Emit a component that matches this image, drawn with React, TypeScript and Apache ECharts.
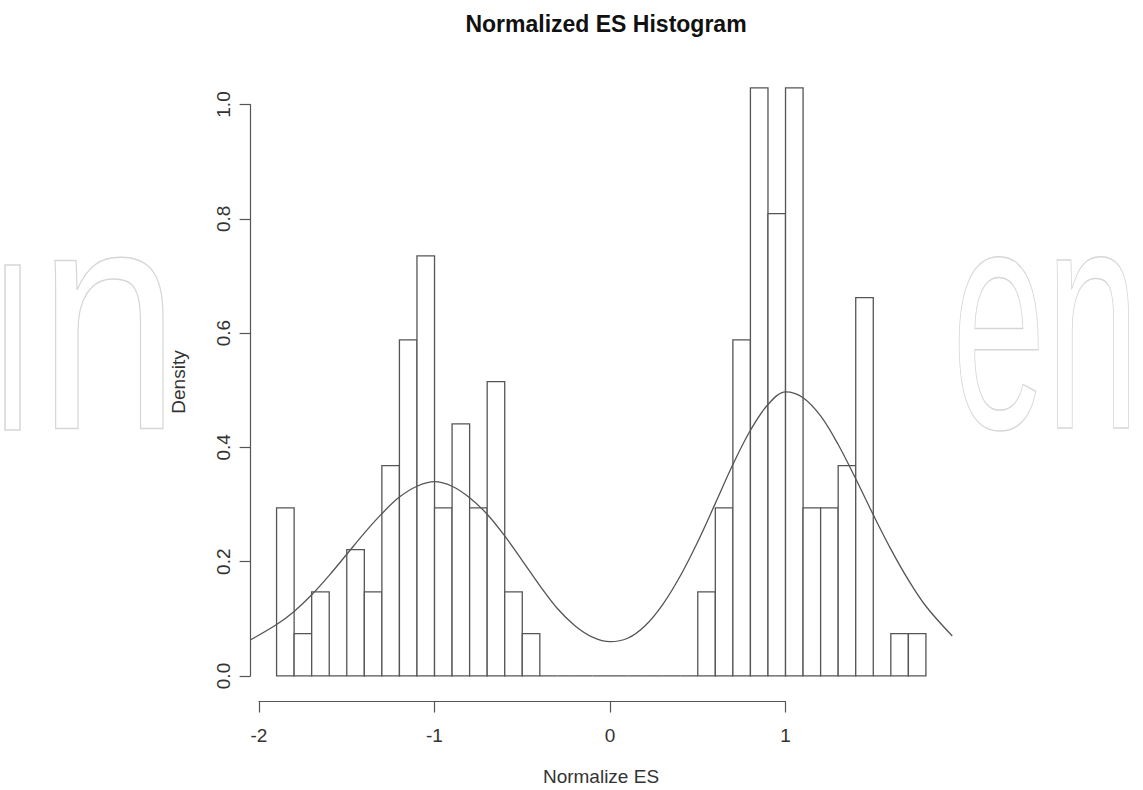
import React, { useEffect, useRef } from "react";
import * as echarts from "echarts";

// Histogram bin edges (Normalize ES)
const breaks = [
  -1.9, -1.8, -1.7, -1.6, -1.5, -1.4, -1.3, -1.2, -1.1, -1.0,
  -0.9, -0.8, -0.7, -0.6, -0.5, -0.4, -0.3, -0.2, -0.1, 0.0,
  0.1, 0.2, 0.3, 0.4, 0.5, 0.6, 0.7, 0.8, 0.9, 1.0,
  1.1, 1.2, 1.3, 1.4, 1.5, 1.6, 1.7, 1.8,
];

// Density of each bin
const densities = [
  0.294, 0.074, 0.147, 0.0, 0.221, 0.147, 0.368, 0.588, 0.735, 0.294,
  0.441, 0.294, 0.515, 0.147, 0.074, 0.0, 0.0, 0.0, 0.0, 0.0,
  0.0, 0.0, 0.0, 0.0, 0.147, 0.294, 0.588, 1.029, 0.809, 1.029,
  0.294, 0.294, 0.368, 0.662, 0.0, 0.074, 0.074,
];

// Density curve
const curveX = [
  -2.05, -1.9, -1.8, -1.7, -1.6, -1.5, -1.4, -1.3, -1.2, -1.1,
  -1.0, -0.9, -0.8, -0.7, -0.6, -0.5, -0.4, -0.3, -0.2, -0.1,
  0.0, 0.1, 0.2, 0.3, 0.4, 0.5, 0.6, 0.7, 0.8, 0.9,
  1.0, 1.1, 1.2, 1.3, 1.4, 1.5, 1.6, 1.7, 1.8, 1.95,
];
const curveY = [
  0.063, 0.09, 0.113, 0.142, 0.176, 0.213, 0.25, 0.284, 0.313, 0.332,
  0.34, 0.332, 0.312, 0.283, 0.245, 0.202, 0.158, 0.118, 0.088, 0.068,
  0.06, 0.066, 0.088, 0.125, 0.175, 0.235, 0.302, 0.37, 0.43, 0.475,
  0.497, 0.487, 0.455, 0.405, 0.345, 0.282, 0.222, 0.168, 0.122, 0.07,
];

const xTickMin = -2;
const xTickMax = 1;
const yTickMin = 0;
const yTickMax = 1;

const titleText = "Normalized ES Histogram";
const xName = "Normalize ES";
const yName = "Density";

const FONT = "Liberation Sans, Arial, Helvetica, sans-serif";
const LINE = "#555";
const WM = "#d6d6d6";

export default function App() {
  const ref = useRef<HTMLDivElement>(null);

  useEffect(() => {
    if (!ref.current) return;
    const chart = echarts.init(ref.current, null, { renderer: "svg" });

    const histData = densities.map((d, i) => [breaks[i], breaks[i + 1], d]);
    const curveData = curveX.map((x, i) => [x, curveY[i]]);

    const option: any = {
      animation: false,
      backgroundColor: "#fff",
      title: {
        text: titleText,
        left: 601,
        textAlign: "center",
        top: 7,
        textStyle: { fontFamily: FONT, fontSize: 23, fontWeight: "bold", color: "#111" },
      },
      graphic: [
        {
          type: "rect",
          shape: { x: 5, y: 265, width: 15, height: 165 },
          style: { fill: "rgba(0,0,0,0)", stroke: WM, lineWidth: 1.5 },
          z: -10,
          silent: true,
        },
        {
          type: "text",
          x: 38,
          y: 477,
          scaleX: 0.8,
          style: {
            text: "n",
            fontSize: 318,
            fontFamily: FONT,
            fill: "rgba(0,0,0,0)",
            stroke: WM,
            lineWidth: 1.5,
            verticalAlign: "bottom",
          },
          z: -10,
          silent: true,
        },
        {
          type: "text",
          x: 952,
          y: 477,
          scaleX: 0.53,
          style: {
            text: "en",
            fontSize: 318,
            fontFamily: FONT,
            fill: "rgba(0,0,0,0)",
            stroke: WM,
            lineWidth: 1.5,
            verticalAlign: "bottom",
          },
          z: -10,
          silent: true,
        },
        {
          type: "text",
          x: 601,
          y: 776,
          style: {
            text: xName,
            fontSize: 19,
            fontFamily: FONT,
            fill: "#333",
            align: "center",
            verticalAlign: "middle",
          },
          silent: true,
        },
        {
          type: "text",
          x: 178,
          y: 382,
          rotation: Math.PI / 2,
          style: {
            text: yName,
            fontSize: 19,
            fontFamily: FONT,
            fill: "#333",
            align: "center",
            verticalAlign: "middle",
          },
          silent: true,
        },
      ],
      grid: [
        { left: 250.6, top: 64.4, width: 701.3, height: 635.1, outerBoundsMode: "none", containLabel: false },
        { left: 259, top: 600, width: 526.5, height: 101.5, outerBoundsMode: "none", containLabel: false },
        { left: 250.6, top: 104.5, width: 100, height: 571.5, outerBoundsMode: "none", containLabel: false },
      ],
      xAxis: [
        {
          type: "value",
          gridIndex: 0,
          min: -2.048,
          max: 1.948,
          show: false,
          splitLine: { show: false },
        },
        {
          type: "value",
          gridIndex: 1,
          position: "bottom",
          min: xTickMin,
          max: xTickMax,
          interval: 1,
          axisLine: { show: true, lineStyle: { color: LINE, width: 1.2 } },
          axisTick: { show: true, inside: false, length: 11, lineStyle: { color: LINE, width: 1.2 } },
          axisLabel: { show: true, margin: 24, fontFamily: FONT, fontSize: 19, color: "#333" },
          splitLine: { show: false },
        },
        {
          type: "value",
          gridIndex: 2,
          show: false,
          min: 0,
          max: 1,
          splitLine: { show: false },
        },
      ],
      yAxis: [
        {
          type: "value",
          gridIndex: 0,
          min: -0.0412,
          max: 1.0702,
          show: false,
          splitLine: { show: false },
        },
        {
          type: "value",
          gridIndex: 1,
          show: false,
          min: 0,
          max: 1,
          splitLine: { show: false },
        },
        {
          type: "value",
          gridIndex: 2,
          position: "left",
          min: yTickMin,
          max: yTickMax,
          interval: 0.2,
          axisLine: { show: true, lineStyle: { color: LINE, width: 1.2 } },
          axisTick: { show: true, inside: false, length: 11, lineStyle: { color: LINE, width: 1.2 } },
          axisLabel: {
            show: true,
            rotate: 90,
            margin: 18,
            fontFamily: FONT,
            fontSize: 19,
            color: "#333",
            formatter: (v: number) => v.toFixed(1),
          },
          splitLine: { show: false },
        },
      ],
      series: [
        {
          type: "custom",
          xAxisIndex: 0,
          yAxisIndex: 0,
          data: histData,
          encode: { x: [0, 1], y: 2 },
          z: 2,
          renderItem: (params: any, api: any) => {
            const x0 = api.value(0);
            const x1 = api.value(1);
            const h = api.value(2);
            const p0 = api.coord([x0, 0]);
            const p1 = api.coord([x1, h]);
            return {
              type: "polygon",
              shape: {
                points: [
                  [p0[0], p0[1]],
                  [p0[0], p1[1]],
                  [p1[0], p1[1]],
                  [p1[0], p0[1]],
                ],
              },
              style: { fill: "#fff", stroke: LINE, lineWidth: 1.3 },
            };
          },
        },
        {
          type: "line",
          xAxisIndex: 0,
          yAxisIndex: 0,
          data: curveData,
          smooth: 0.35,
          showSymbol: false,
          symbol: "none",
          z: 3,
          lineStyle: { color: "#555", width: 1.3 },
        },
      ],
    };

    chart.setOption(option);
    return () => chart.dispose();
  }, []);

  return (
    <div
      ref={ref}
      style={{ position: "absolute", left: 0, top: 0, width: 1143, height: 790, background: "#fff" }}
    />
  );
}
